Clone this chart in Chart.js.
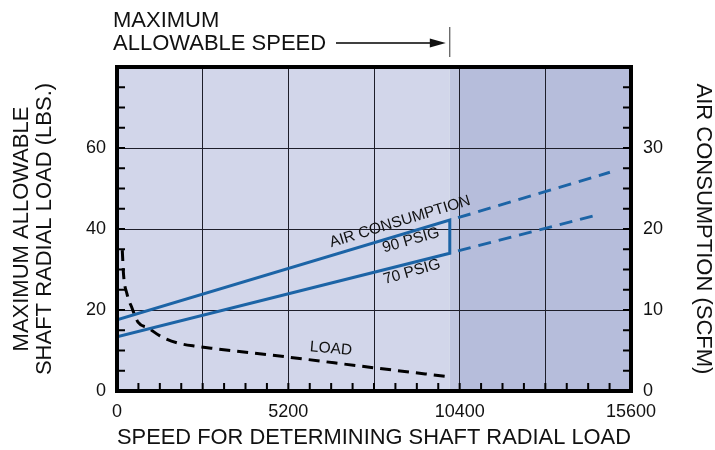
<!DOCTYPE html>
<html>
<head>
<meta charset="utf-8">
<script src="https://cdn.jsdelivr.net/npm/chart.js@4.4.0/dist/chart.umd.min.js"></script>
<style>
    html, body { margin: 0; padding: 0; background: #fff; }
    #wrap { width: 715px; height: 450px; }
</style>
</head>
<body>
<div id="wrap"><canvas id="speedChart" width="715" height="450"></canvas></div>
<script>
// Axis values
const speedTickLabels = [0, 5200, 10400, 15600];
const loadTickLabels = [0, 20, 40, 60];
const airTickLabels = [0, 10, 20, 30];
const maxAllowableSpeed = 10100;

// Load curve (lbs)
const loadSpeed = [160, 200, 303, 455, 637, 941, 1305, 1821, 2428, 3035, 5160, 7830, 10107];
const loadLbs = [34.8, 28.6, 24.0, 20.5, 17.0, 15.6, 13.6, 11.9, 11.0, 10.4, 8.4, 5.7, 3.5];

// Air consumption (SCFM), solid up to max speed
const air90Speed = [0, 10100];
const air90Scfm = [8.8, 21.1];
const air70Speed = [0, 10100];
const air70Scfm = [6.7, 17.0];

// Air consumption beyond max speed (dashed)
const air90ExtSpeed = [10350, 14960];
const air90ExtScfm = [21.4, 27.0];
const air70ExtSpeed = [10350, 14450];
const air70ExtScfm = [17.3, 21.6];

const FONT = '"Liberation Sans", Arial, sans-serif';
const BLUE = '#1c64a6';

document.addEventListener('DOMContentLoaded', function() {
    Chart.defaults.font.family = FONT;
    Chart.defaults.color = '#111';
    initializeChart();
});

function toPoints(xs, ys) {
    return xs.map((x, i) => ({ x: x, y: ys[i] }));
}

// Plot background, shaded region past max speed, inner minor ticks
const plotDecor = {
    id: 'plotDecor',
    beforeDraw(chart) {
        const { ctx, chartArea: a, scales } = chart;
        const xMax = scales.x.getPixelForValue(maxAllowableSpeed);
        const x104 = scales.x.getPixelForValue(10400);
        ctx.save();
        ctx.fillStyle = '#fff';
        ctx.fillRect(0, 0, chart.width, chart.height);
        ctx.fillStyle = '#d2d6ea';
        ctx.fillRect(a.left, a.top, xMax - a.left, a.bottom - a.top);
        ctx.fillStyle = '#c0c6e0';
        ctx.fillRect(xMax, a.top, x104 - xMax, a.bottom - a.top);
        ctx.fillStyle = '#b6bddb';
        ctx.fillRect(x104, a.top, a.right - x104, a.bottom - a.top);
        ctx.restore();
    },
    beforeDatasetsDraw(chart) {
        const { ctx, chartArea: a, scales } = chart;
        ctx.save();
        ctx.strokeStyle = '#000';
        ctx.lineWidth = 2;
        ctx.beginPath();
        for (let v = 650; v < 15600; v += 650) {
            const px = scales.x.getPixelForValue(v);
            ctx.moveTo(px, a.bottom);
            ctx.lineTo(px, a.bottom - 8);
        }
        for (let v = 5; v < 80; v += 5) {
            const py = scales.y.getPixelForValue(v);
            ctx.moveTo(a.left, py);
            ctx.lineTo(a.left + 8, py);
        }
        for (let v = 2.5; v < 40; v += 2.5) {
            const py = scales.y2.getPixelForValue(v);
            ctx.moveTo(a.right, py);
            ctx.lineTo(a.right - 8, py);
        }
        ctx.stroke();
        ctx.restore();
    },
    afterDatasetsDraw(chart) {
        const { ctx, chartArea: a, scales } = chart;
        ctx.save();
        // frame
        ctx.strokeStyle = '#000';
        ctx.lineWidth = 4;
        ctx.strokeRect(a.left, a.top, a.right - a.left, a.bottom - a.top);

        // curve labels
        ctx.fillStyle = '#111';
        ctx.font = '15.5px ' + FONT;
        ctx.textAlign = 'center';
        ctx.textBaseline = 'middle';
        const labels = [
            { text: 'AIR CONSUMPTION', x: 8590, y: 20.9, axis: 'y2', rot: -17 },
            { text: '90 PSIG', x: 8920, y: 18.6, axis: 'y2', rot: -16 },
            { text: '70 PSIG', x: 8950, y: 14.7, axis: 'y2', rot: -16 },
            { text: 'LOAD', x: 6495, y: 10.4, axis: 'y', rot: 5 }
        ];
        labels.forEach(l => {
            ctx.save();
            ctx.translate(scales.x.getPixelForValue(l.x), scales[l.axis].getPixelForValue(l.y));
            ctx.rotate(l.rot * Math.PI / 180);
            ctx.fillText(l.text, 0, 0);
            ctx.restore();
        });

        // max allowable speed header
        const xMax = scales.x.getPixelForValue(maxAllowableSpeed);
        ctx.font = '22px ' + FONT;
        ctx.textAlign = 'left';
        ctx.textBaseline = 'alphabetic';
        ctx.fillText('MAXIMUM', 113, 27);
        ctx.fillText('ALLOWABLE SPEED', 113, 50);
        ctx.lineWidth = 1.5;
        ctx.beginPath();
        ctx.moveTo(336, 43);
        ctx.lineTo(xMax - 18, 43);
        ctx.stroke();
        ctx.beginPath();
        ctx.moveTo(xMax - 4, 43);
        ctx.lineTo(xMax - 20, 38.5);
        ctx.lineTo(xMax - 20, 47.5);
        ctx.closePath();
        ctx.fill();
        ctx.lineWidth = 1;
        ctx.strokeStyle = '#333';
        ctx.beginPath();
        ctx.moveTo(xMax, 27);
        ctx.lineTo(xMax, 57);
        ctx.stroke();
        ctx.restore();
    }
};

function initializeChart() {
    const ctx = document.getElementById('speedChart').getContext('2d');

    // solid bracket: 90 PSIG out, down at max speed, 70 PSIG back
    const bracket = toPoints(air90Speed, air90Scfm)
        .concat(toPoints(air70Speed, air70Scfm).reverse());

    window.speedChart = new Chart(ctx, {
        type: 'line',
        data: {
            datasets: [
                {
                    label: 'Air consumption',
                    data: bracket,
                    yAxisID: 'y2',
                    borderColor: BLUE,
                    borderWidth: 3,
                    pointRadius: 0
                },
                {
                    label: '90 PSIG (over speed)',
                    data: toPoints(air90ExtSpeed, air90ExtScfm),
                    yAxisID: 'y2',
                    borderColor: BLUE,
                    borderWidth: 3,
                    borderDash: [13, 8],
                    pointRadius: 0
                },
                {
                    label: '70 PSIG (over speed)',
                    data: toPoints(air70ExtSpeed, air70ExtScfm),
                    yAxisID: 'y2',
                    borderColor: BLUE,
                    borderWidth: 3,
                    borderDash: [13, 8],
                    pointRadius: 0
                },
                {
                    label: 'Load',
                    data: toPoints(loadSpeed, loadLbs),
                    yAxisID: 'y',
                    borderColor: '#000',
                    borderWidth: 3,
                    borderDash: [11, 7],
                    cubicInterpolationMode: 'monotone',
                    pointRadius: 0
                }
            ]
        },
        options: {
            responsive: false,
            animation: false,
            layout: { padding: { top: 67, left: 0, right: 0, bottom: 0 } },
            plugins: {
                legend: { display: false },
                tooltip: { enabled: false }
            },
            scales: {
                x: {
                    type: 'linear',
                    min: 0,
                    max: 15600,
                    afterFit: s => { s.height = 59; },
                    border: { display: false },
                    grid: { color: '#1e1e2a', lineWidth: 1, drawTicks: false },
                    ticks: {
                        stepSize: 2600,
                        autoSkip: false,
                        maxRotation: 0,
                        padding: 10,
                        font: { size: 18 },
                        callback: v => speedTickLabels.includes(v) ? String(v) : ''
                    },
                    title: {
                        display: true,
                        text: 'SPEED FOR DETERMINING SHAFT RADIAL LOAD',
                        font: { size: 22, lineHeight: 1.1 },
                        padding: 0
                    }
                },
                y: {
                    position: 'left',
                    min: 0,
                    max: 80,
                    afterFit: s => { s.width = 117; },
                    border: { display: false },
                    grid: { color: '#1e1e2a', lineWidth: 1, drawTicks: false },
                    ticks: {
                        stepSize: 20,
                        padding: 11,
                        font: { size: 18 },
                        callback: v => loadTickLabels.includes(v) ? String(v) : ''
                    },
                    title: {
                        display: true,
                        text: ['MAXIMUM ALLOWABLE', 'SHAFT RADIAL LOAD (LBS.)'],
                        font: { size: 22, lineHeight: 1.05 },
                        padding: { top: 10, bottom: 0 }
                    }
                },
                y2: {
                    position: 'right',
                    min: 0,
                    max: 40,
                    afterFit: s => { s.width = 84; },
                    border: { display: false },
                    grid: { display: false, drawTicks: false },
                    ticks: {
                        stepSize: 10,
                        padding: 12,
                        font: { size: 18 },
                        callback: v => airTickLabels.includes(v) ? String(v) : ''
                    },
                    title: {
                        display: true,
                        text: 'AIR CONSUMPTION (SCFM)',
                        font: { size: 22, lineHeight: 1.1 },
                        padding: 0
                    }
                }
            }
        },
        plugins: [plotDecor]
    });
}
</script>
</body>
</html>
